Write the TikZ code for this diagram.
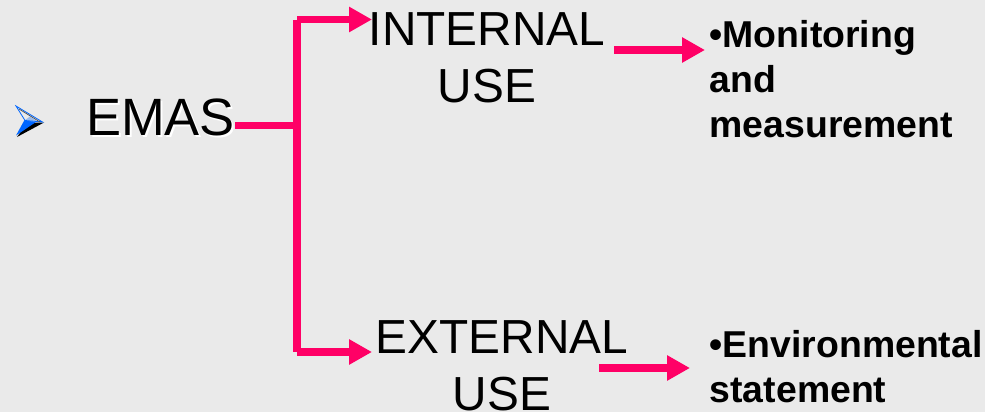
\documentclass[tikz,border=0pt]{standalone}
\usepackage{fontspec}
\setmainfont{Liberation Sans}
\usetikzlibrary{arrows.meta}
\definecolor{bgc}{HTML}{EAEAEA}
\definecolor{linkc}{HTML}{FF0066}
\definecolor{bulletblue}{HTML}{0066FF}
\definecolor{bulletpale}{HTML}{99BBEE}
\tikzset{
  x=1pt,y=-1pt,
  link/.style={draw=linkc,line width=7.5pt},
  linkarrow/.style={link,-{Triangle[length=23pt,width=24pt,fill=linkc]}},
  usetext/.style={inner sep=0pt,align=center,anchor=north,font=\fontsize{47.8}{57}\selectfont,text=black},
  bullettext/.style={inner sep=0pt,align=left,anchor=north west,font=\fontsize{37.4}{45}\selectfont\bfseries,text=black},
  mainlabel/.style={inner sep=0pt,anchor=base west,font=\fontsize{52.5}{60}\selectfont},
}
\begin{document}
\begin{tikzpicture}
\useasboundingbox (0,0) rectangle (985,412);
\fill[bgc] (0,0) rectangle (985,412);
% bullet arrowhead
\fill[black] (17,137) -- (27,123) -- (44,122.5) -- cycle;
\fill[bulletblue] (16,135.5) -- (24.5,120) -- (36,122) -- cycle;
\fill[bulletpale] (24.5,120.5) -- (30,116.5) -- (38,122) -- cycle;
\draw[bulletblue,line width=0.8pt,line join=miter] (16,106) -- (42.5,122) -- (25,120.5) -- cycle;
\draw[black!70,line width=0.7pt] (19,109) -- (40,122);
% text
\node[mainlabel,text=white] at (88,137) {EMAS};
\node[mainlabel,text=black] (emas) at (86,135) {EMAS};
\node[usetext] (internal) at (487,12) {INTERNAL\\USE};
\node[usetext] (external) at (502,320.5) {EXTERNAL\\USE};
\node[bullettext] (monitoring) at (709.5,20.5) {•Monitoring\\and\\measurement};
\node[bullettext] (environmental) at (709.5,330) {•Environmental\\statement};
% connectors
\coordinate (junction) at (297,125.5);
\coordinate (topbend) at (297,19.5);
\coordinate (botbend) at (297,352);
\coordinate (toptip) at (372,19.5);
\coordinate (bottip) at (372,352);
\coordinate (monstart) at (614,50);
\coordinate (montip) at (705,50);
\coordinate (envstart) at (599,368);
\coordinate (envtip) at (690,368);
\draw[link] (emas.east |- junction) -- (junction);
\draw[link] (297,20) -- (297,352);
\draw[linkarrow] (topbend) -- (toptip);
\draw[linkarrow] (botbend) -- (bottip);
\draw[linkarrow] (monstart) -- (montip);
\draw[linkarrow] (envstart) -- (envtip);
\end{tikzpicture}
\end{document}
